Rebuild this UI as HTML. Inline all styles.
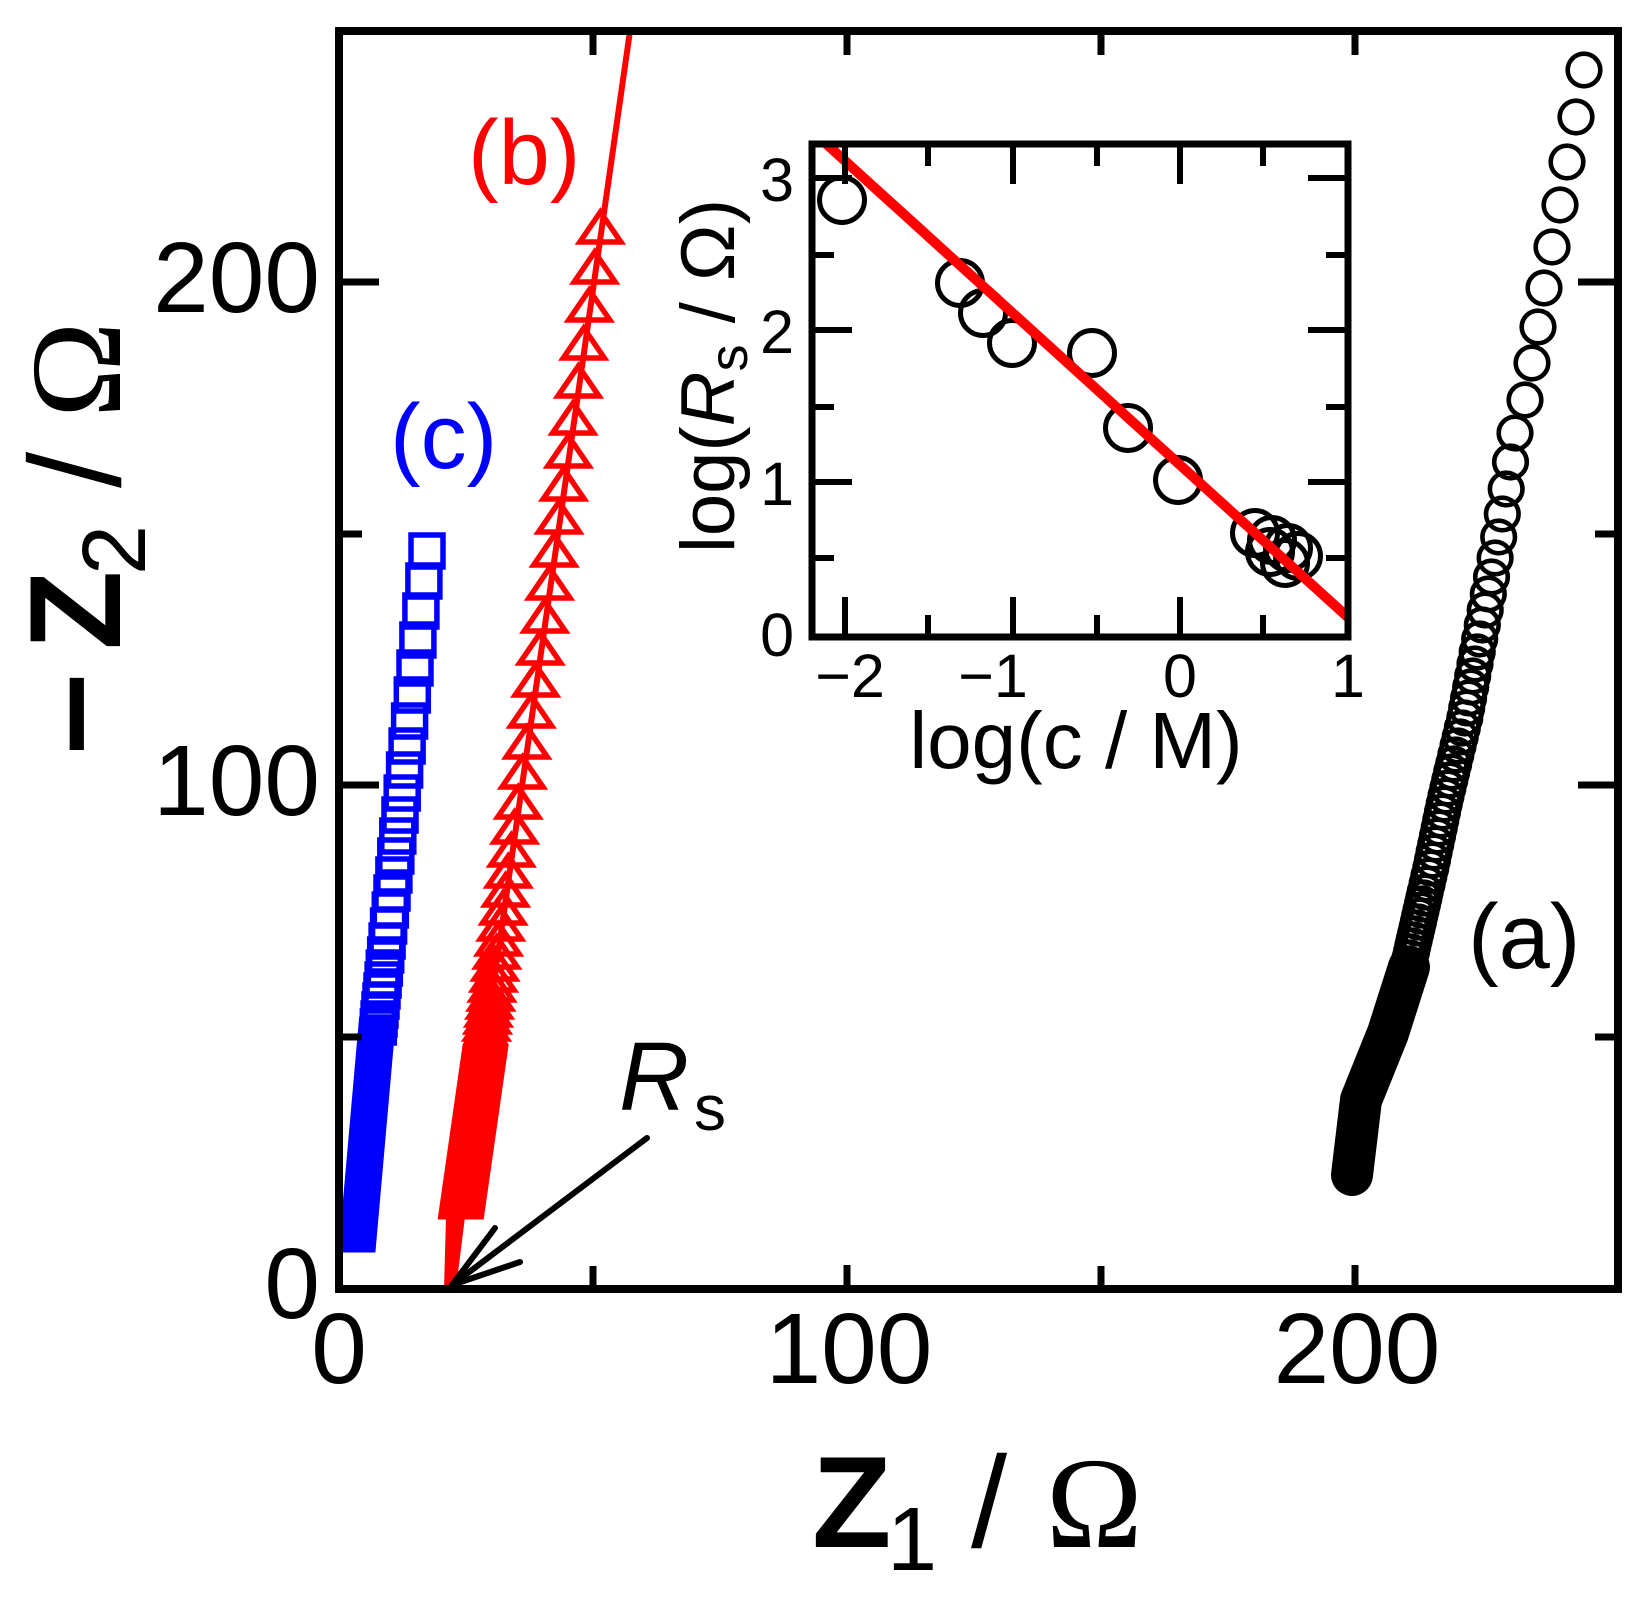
<!DOCTYPE html>
<html>
<head>
<meta charset="utf-8">
<style>
html,body{margin:0;padding:0;background:#fff;}
svg{display:block;}
</style>
</head>
<body>
<svg width="1650" height="1606" viewBox="0 0 1650 1606" xmlns="http://www.w3.org/2000/svg" font-family="'Liberation Sans', Arial, sans-serif">
<defs>
<path id="t" d="M0,-18 L20.5,12 L-20.5,12 Z" fill="none" stroke="#ff0000" stroke-width="5.5"/>
<rect id="q" x="-16" y="-16" width="32" height="32" fill="none" stroke="#0000ff" stroke-width="5.5"/>
<circle id="o" r="16.3" fill="none" stroke="#000" stroke-width="4.6"/>
<circle id="oi" r="22.5" fill="none" stroke="#000" stroke-width="5"/>
<clipPath id="mainclip"><rect x="339" y="31" width="1279" height="1258"/></clipPath>
<clipPath id="insclip"><rect x="812" y="144" width="536" height="493"/></clipPath>
</defs>
<rect x="0" y="0" width="1650" height="1606" fill="#fff"/>

<!-- red fit line main -->
<line x1="450" y1="1289" x2="630" y2="31" stroke="#ff0000" stroke-width="6" clip-path="url(#mainclip)"/>
<polygon points="446,1217 465,1217 456,1289 444,1289" fill="#ff0000"/>

<!-- red triangles (b) -->
<g>
<use href="#t" x="600.4" y="230"/><use href="#t" x="594.7" y="270"/><use href="#t" x="589.3" y="308"/>
<use href="#t" x="583.8" y="346"/><use href="#t" x="578.4" y="384"/><use href="#t" x="573.1" y="421"/>
<use href="#t" x="568.4" y="454"/><use href="#t" x="563.7" y="487"/><use href="#t" x="559" y="520"/>
<use href="#t" x="554.2" y="553"/><use href="#t" x="549.5" y="586"/><use href="#t" x="544.8" y="619"/>
<use href="#t" x="540.2" y="651"/><use href="#t" x="535.7" y="683"/><use href="#t" x="531.2" y="714"/>
<use href="#t" x="526.8" y="745"/><use href="#t" x="522.5" y="775"/><use href="#t" x="518.2" y="805"/>
<use href="#t" x="514.6" y="830"/><use href="#t" x="511.3" y="853"/><use href="#t" x="508.3" y="874"/>
<use href="#t" x="505.6" y="893"/><use href="#t" x="503.1" y="911"/><use href="#t" x="500.8" y="927"/>
<use href="#t" x="498.6" y="942"/><use href="#t" x="496.8" y="955"/><use href="#t" x="495" y="967"/>
<use href="#t" x="493.5" y="978"/><use href="#t" x="492" y="988"/><use href="#t" x="490.8" y="997"/>
<use href="#t" x="489.6" y="1005"/><use href="#t" x="488.5" y="1013"/><use href="#t" x="487.5" y="1020"/>
<use href="#t" x="486.5" y="1027"/>
<polygon points="485.6,1015 506.1,1045 481.5,1217 440.5,1217 465.1,1045" fill="#ff0000" stroke="#ff0000" stroke-width="5"/>
</g>

<!-- blue squares (c) -->
<g>
<use href="#q" x="427" y="551"/><use href="#q" x="423.9" y="581"/><use href="#q" x="420.9" y="611"/>
<use href="#q" x="417.9" y="640"/><use href="#q" x="415" y="668"/><use href="#q" x="412.3" y="695"/>
<use href="#q" x="409.6" y="721"/><use href="#q" x="407.1" y="746"/><use href="#q" x="404.6" y="770"/>
<use href="#q" x="402.2" y="793"/><use href="#q" x="400" y="815"/><use href="#q" x="397.8" y="836"/>
<use href="#q" x="395.8" y="856"/><use href="#q" x="393.9" y="875"/><use href="#q" x="392" y="893"/>
<use href="#q" x="390.3" y="910"/><use href="#q" x="388.6" y="926"/><use href="#q" x="387.1" y="941"/>
<use href="#q" x="385.7" y="955"/><use href="#q" x="384.3" y="968"/><use href="#q" x="383.1" y="980"/>
<use href="#q" x="382" y="991"/><use href="#q" x="381" y="1001"/><use href="#q" x="380" y="1010"/>
<use href="#q" x="379.1" y="1019"/><use href="#q" x="378.3" y="1027"/>
<polygon points="361.5,1019 393.5,1019 373.1,1250 341.1,1250" fill="#0000ff" stroke="#0000ff" stroke-width="5"/>
</g>

<!-- black circles (a) -->
<g>
<use href="#o" x="1584" y="70"/><use href="#o" x="1576" y="117"/><use href="#o" x="1567" y="162"/>
<use href="#o" x="1560" y="205"/><use href="#o" x="1552" y="247"/><use href="#o" x="1544" y="288"/>
<use href="#o" x="1538" y="327"/><use href="#o" x="1532" y="363"/><use href="#o" x="1525" y="400"/>
<use href="#o" x="1515" y="433"/><use href="#o" x="1510.5" y="462"/><use href="#o" x="1506.2" y="489"/>
<use href="#o" x="1502.3" y="514"/><use href="#o" x="1498.7" y="537"/><use href="#o" x="1495.1" y="558"/>
<use href="#o" x="1491.5" y="577"/><use href="#o" x="1488.3" y="594"/><use href="#o" x="1485.2" y="610"/>
<use href="#o" x="1482.3" y="625"/><use href="#o" x="1479.7" y="639"/><use href="#o" x="1477.2" y="652"/>
<use href="#o" x="1475" y="664"/><use href="#o" x="1472.7" y="676"/><use href="#o" x="1470.7" y="687"/>
<use href="#o" x="1468.6" y="698"/><use href="#o" x="1466.7" y="708"/><use href="#o" x="1464.8" y="718"/>
<use href="#o" x="1462.3" y="728"/><use href="#o" x="1460.2" y="737"/><use href="#o" x="1458" y="746"/>
<use href="#o" x="1455.8" y="755"/><use href="#o" x="1453.7" y="764"/><use href="#o" x="1451.7" y="772"/>
<use href="#o" x="1449.8" y="780"/><use href="#o" x="1447.9" y="788"/><use href="#o" x="1446" y="796"/>
<use href="#o" x="1444.2" y="804"/><use href="#o" x="1442.5" y="812"/><use href="#o" x="1440.8" y="820"/>
<use href="#o" x="1439.2" y="828"/><use href="#o" x="1437.5" y="836"/><use href="#o" x="1435.8" y="844"/>
<use href="#o" x="1434.1" y="852"/><use href="#o" x="1432.5" y="860"/><use href="#o" x="1430.8" y="868"/>
<use href="#o" x="1428.9" y="876"/><use href="#o" x="1427.1" y="884"/><use href="#o" x="1425.2" y="892"/>
<use href="#o" x="1423.9" y="898"/><use href="#o" x="1422.5" y="904"/><use href="#o" x="1421.1" y="910"/>
<use href="#o" x="1419.7" y="916"/><use href="#o" x="1418.4" y="922"/><use href="#o" x="1417" y="928"/>
<use href="#o" x="1415.6" y="934"/><use href="#o" x="1414.2" y="940"/><use href="#o" x="1412.8" y="946"/>
<use href="#o" x="1411.5" y="952"/><use href="#o" x="1410.1" y="958"/><use href="#o" x="1408.7" y="964"/>
<polyline points="1409,967 1388,1033 1361,1100 1352,1175" fill="none" stroke="#000" stroke-width="42" stroke-linecap="round" stroke-linejoin="round"/>
</g>

<!-- Rs arrow -->
<g stroke="#000" stroke-width="6" stroke-linecap="round" fill="none">
<line x1="647" y1="1138" x2="452" y2="1285"/>
<line x1="452" y1="1285" x2="495" y2="1228"/>
<line x1="452" y1="1285" x2="520" y2="1262"/>
</g>

<!-- main frame and ticks -->
<rect x="339" y="31" width="1279" height="1258" fill="none" stroke="#000" stroke-width="8"/>
<g stroke="#000" stroke-width="7">
<line x1="339" y1="1037" x2="362" y2="1037"/>
<line x1="339" y1="785" x2="379" y2="785"/>
<line x1="339" y1="534" x2="362" y2="534"/>
<line x1="339" y1="282" x2="379" y2="282"/>
<line x1="1618" y1="1037" x2="1595" y2="1037"/>
<line x1="1618" y1="785" x2="1578" y2="785"/>
<line x1="1618" y1="534" x2="1595" y2="534"/>
<line x1="1618" y1="282" x2="1578" y2="282"/>
<line x1="593" y1="1289" x2="593" y2="1266"/>
<line x1="847" y1="1289" x2="847" y2="1265"/>
<line x1="1101" y1="1289" x2="1101" y2="1266"/>
<line x1="1355" y1="1289" x2="1355" y2="1265"/>
<line x1="593" y1="31" x2="593" y2="55"/>
<line x1="847" y1="31" x2="847" y2="55"/>
<line x1="1101" y1="31" x2="1101" y2="55"/>
<line x1="1355" y1="31" x2="1355" y2="55"/>
</g>

<!-- main tick labels -->
<g font-size="100" fill="#000">
<text x="320" y="1318" text-anchor="end">0</text>
<text x="320" y="815" text-anchor="end">100</text>
<text x="320" y="312" text-anchor="end">200</text>
<text x="339" y="1383" text-anchor="middle">0</text>
<text x="849" y="1383" text-anchor="middle">100</text>
<text x="1357" y="1383" text-anchor="middle">200</text>
</g>

<!-- x axis label -->
<text x="812" y="1547" font-size="130" font-weight="bold">Z</text>
<text x="887" y="1570" font-size="90">1</text>
<text x="971" y="1547" font-size="130">/</text>
<text x="1046" y="1547" font-size="130" font-family="'Liberation Serif', 'Times New Roman', serif">Ω</text>

<!-- y axis label -->
<g transform="translate(120,754) rotate(-90)">
<text x="-2" y="0" font-size="130" font-weight="bold" textLength="84" lengthAdjust="spacingAndGlyphs">−</text>
<text x="104" y="0" font-size="130" font-weight="bold">Z</text>
<text x="179" y="25" font-size="90">2</text>
<text x="266" y="0" font-size="130">/</text>
<text x="336" y="0" font-size="130" font-family="'Liberation Serif', 'Times New Roman', serif">Ω</text>
</g>

<!-- series labels -->
<text x="468" y="184" font-size="92" fill="#ff0000">(b)</text>
<text x="390" y="468" font-size="92" fill="#0000ff">(c)</text>
<text x="1468" y="968" font-size="92" fill="#000">(a)</text>
<text x="619" y="1110" font-size="97" font-style="italic">R</text>
<text x="694" y="1130" font-size="64">s</text>

<!-- inset -->
<rect x="812" y="144" width="536" height="493" fill="#fff"/>
<g>
<use href="#oi" x="842" y="200"/>
<use href="#oi" x="960" y="283"/>
<use href="#oi" x="983" y="313"/>
<use href="#oi" x="1012" y="343"/>
<use href="#oi" x="1092" y="353"/>
<use href="#oi" x="1128" y="428"/>
<use href="#oi" x="1178" y="480"/>
<use href="#oi" x="1255" y="533"/>
<use href="#oi" x="1270" y="552"/>
<use href="#oi" x="1272" y="540"/>
<use href="#oi" x="1288" y="548"/>
<use href="#oi" x="1298" y="556"/>
<use href="#oi" x="1285" y="563"/>
</g>
<line x1="822" y1="140" x2="1352" y2="621" stroke="#ff0000" stroke-width="10" clip-path="url(#insclip)"/>
<rect x="812" y="144" width="536" height="493" fill="none" stroke="#000" stroke-width="7"/>
<g stroke="#000" stroke-width="6">
<line x1="812" y1="178" x2="852" y2="178"/>
<line x1="812" y1="255" x2="834" y2="255"/>
<line x1="812" y1="330" x2="852" y2="330"/>
<line x1="812" y1="407" x2="834" y2="407"/>
<line x1="812" y1="482" x2="852" y2="482"/>
<line x1="812" y1="558" x2="834" y2="558"/>
<line x1="1348" y1="178" x2="1308" y2="178"/>
<line x1="1348" y1="255" x2="1326" y2="255"/>
<line x1="1348" y1="330" x2="1308" y2="330"/>
<line x1="1348" y1="407" x2="1326" y2="407"/>
<line x1="1348" y1="482" x2="1308" y2="482"/>
<line x1="1348" y1="558" x2="1326" y2="558"/>
<line x1="845" y1="637" x2="845" y2="597"/>
<line x1="928" y1="637" x2="928" y2="615"/>
<line x1="1013" y1="637" x2="1013" y2="597"/>
<line x1="1097" y1="637" x2="1097" y2="615"/>
<line x1="1180" y1="637" x2="1180" y2="597"/>
<line x1="1263" y1="637" x2="1263" y2="615"/>
<line x1="845" y1="144" x2="845" y2="184"/>
<line x1="928" y1="144" x2="928" y2="166"/>
<line x1="1013" y1="144" x2="1013" y2="184"/>
<line x1="1097" y1="144" x2="1097" y2="166"/>
<line x1="1180" y1="144" x2="1180" y2="184"/>
<line x1="1263" y1="144" x2="1263" y2="166"/>
</g>
<g font-size="61" fill="#000">
<text x="794" y="201" text-anchor="end">3</text>
<text x="794" y="353" text-anchor="end">2</text>
<text x="794" y="505" text-anchor="end">1</text>
<text x="794" y="656" text-anchor="end">0</text>
<text x="850" y="697" text-anchor="middle">−2</text>
<text x="993" y="697" text-anchor="middle">−1</text>
<text x="1180" y="697" text-anchor="middle">0</text>
<text x="1348" y="697" text-anchor="middle">1</text>
</g>
<text x="1076" y="768" text-anchor="middle" font-size="80">log(c / M)</text>
<text transform="translate(734,376) rotate(-90)" text-anchor="middle" font-size="76">log(<tspan font-style="italic">R</tspan><tspan font-size="54" dy="13">s</tspan><tspan dy="-13"> / Ω)</tspan></text>
</svg>
</body>
</html>
